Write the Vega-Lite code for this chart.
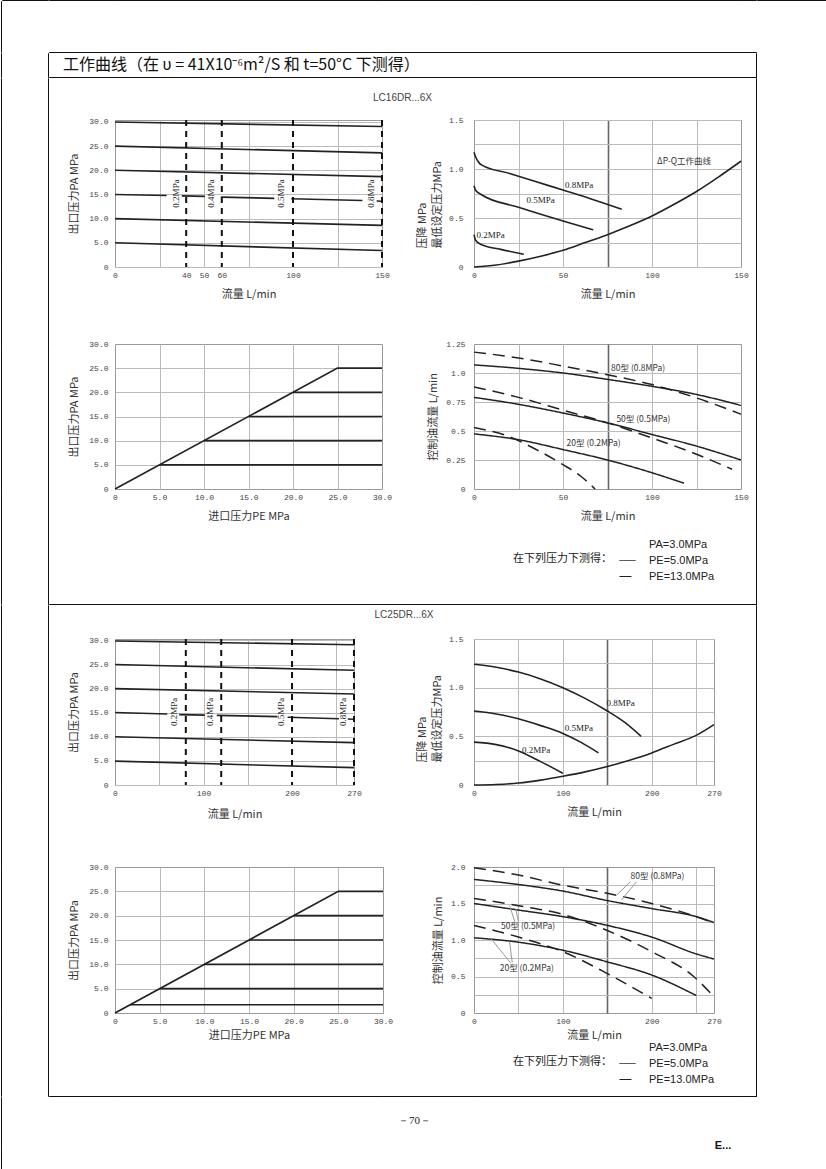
{
"$schema":"https://vega.github.io/schema/vega-lite/v6.json",
"padding":{"left":0,"top":-1,"right":0,"bottom":0},
"background":"#ffffff",
"data":{"values":[]},
"columns":11,
"spacing":0,
"bounds":"flush",
"align":"each",
"resolve":{"scale":{"strokeDash":"independent"},"legend":{"strokeDash":"independent"}},
"concat":[
{"mark":"text","view":{"stroke":"#111"}},{"mark":"text","width":46,"view":{"stroke":"#111"}},{"mark":"text","view":{"stroke":"#111"}},{"mark":"text","width":66,"view":{"stroke":"#111"}},{"mark":"text","width":268,"view":{"stroke":"#111"}},{"mark":"text","width":91,"view":{"stroke":"#111"}},{"mark":"text","width":267,"view":{"stroke":"#111"}},{"mark":"text","width":15,"view":{"stroke":"#111"}},{"mark":"text","view":{"stroke":"#111"}},{"mark":"text","width":70,"view":{"stroke":"#111"}},{"mark":"text","view":{"stroke":"#111"}},

{"mark":"text","height":51,"view":{"stroke":"#111"}},{"mark":"text"},{"mark":"text"},{"mark":"text"},{"mark":"text"},{"mark":"text"},{"mark":"text"},{"mark":"text"},{"mark":"text"},{"mark":"text"},{"mark":"text","height":51,"view":{"stroke":"#111"}},

{"mark":"text","view":{"stroke":"#111"}},{"mark":"text"},{"mark":"text","view":{"stroke":"#111"}},{"mark":"text","width":66,"view":{"stroke":"#111"}},{"mark":"text","width":268,"view":{"stroke":"#111"}},{"mark":"text","width":91,"view":{"stroke":"#111"}},{"mark":"text","width":267,"view":{"stroke":"#111"}},{"mark":"text","width":15,"view":{"stroke":"#111"}},{"mark":"text","view":{"stroke":"#111"}},{"mark":"text"},{"mark":"text","view":{"stroke":"#111"}},

{"mark":"text","height":24,"view":{"stroke":"#111"}},{"mark":"text"},{"mark":"text","height":24,"view":{"stroke":"#111"}},
{"height":24,"data":{"values":[{}]},"mark":{"type":"text","text":"工作曲线（在 υ = 41X10⁻⁶m²/S 和 t=50°C 下测得）","align":"left","dx":14,"font":"Noto Sans CJK SC","fontSize":16,"color":"#111"}},
{"mark":"text"},{"mark":"text"},{"mark":"text"},{"mark":"text"},{"mark":"text","height":24,"view":{"stroke":"#111"}},{"mark":"text"},{"mark":"text","height":24,"view":{"stroke":"#111"}},

{"mark":"text","view":{"stroke":"#111"}},{"mark":"text"},{"mark":"text","view":{"stroke":"#111"}},{"mark":"text","width":66,"view":{"stroke":"#111"}},{"mark":"text","width":268,"view":{"stroke":"#111"}},{"mark":"text","width":91,"view":{"stroke":"#111"}},{"mark":"text","width":267,"view":{"stroke":"#111"}},{"mark":"text","width":15,"view":{"stroke":"#111"}},{"mark":"text","view":{"stroke":"#111"}},{"mark":"text"},{"mark":"text","view":{"stroke":"#111"}},

{"mark":"text","height":42,"view":{"stroke":"#111"}},{"mark":"text"},{"mark":"text","height":42,"view":{"stroke":"#111"}},{"mark":"text"},{"mark":"text"},
{"height":42,"data":{"values":[{}]},"mark":{"type":"text","text":"LC16DR...6X","dx":19.5,"dy":-1,"font":"Liberation Sans","fontSize":10,"color":"#444"}},
{"mark":"text"},{"mark":"text"},{"mark":"text","height":42,"view":{"stroke":"#111"}},{"mark":"text"},{"mark":"text","height":42,"view":{"stroke":"#111"}},

{"mark":"text","height":147,"view":{"stroke":"#111"}},{"mark":"text"},{"mark":"text","height":147,"view":{"stroke":"#111"}},{"mark":"text"},
{"width":267,"height":147,"view":{"stroke":"#999"},
 "data":{"values":[
  {"s":"30","q":0,"p":30.0},{"s":"30","q":150,"p":29.05},
  {"s":"25","q":0,"p":25.0},{"s":"25","q":150,"p":23.6},
  {"s":"20","q":0,"p":20.0},{"s":"20","q":150,"p":18.7},
  {"s":"15a","q":0,"p":15.0},{"s":"15a","q":29,"p":14.8},
  {"s":"15b","q":37.5,"p":14.7},{"s":"15b","q":50.5,"p":14.6},
  {"s":"15c","q":59.5,"p":14.45},{"s":"15c","q":89.5,"p":14.2},
  {"s":"15d","q":99,"p":14.1},{"s":"15d","q":139,"p":13.75},
  {"s":"15e","q":147,"p":13.65},{"s":"15e","q":150,"p":13.6},
  {"s":"10","q":0,"p":10.0},{"s":"10","q":150,"p":8.6},
  {"s":"5","q":0,"p":5.0},{"s":"5","q":150,"p":3.4}
 ]},
 "layer":[
  {"mark":{"type":"line","color":"#222","strokeWidth":1.6},
   "encoding":{
    "x":{"field":"q","type":"quantitative","title":"流量 L/min","scale":{"domain":[0,150],"nice":false},
      "axis":{"values":[0,25,40,50,60,75,100,125,150],"labelOverlap":false,"labelExpr":"indexof([25,75,125], datum.value) >= 0 ? '' : datum.label",
        "gridOpacity":{"condition":{"test":"indexof([0,40,60,100,150], datum.value) >= 0","value":0},"value":1}}},
    "y":{"field":"p","type":"quantitative","title":"出口压力PA MPa","scale":{"domain":[0,30.4],"nice":false},
      "axis":{"values":[0,5,10,15,20,25,30],"labelOverlap":false,"labelExpr":"datum.value == 0 ? '0' : format(datum.value, '.1f')"}},
    "detail":{"field":"s"}}},
  {"data":{"values":[{"q":40},{"q":60},{"q":100},{"q":150}]},
   "mark":{"type":"rule","color":"#111","strokeWidth":2,"strokeDash":[6,5]},
   "encoding":{
    "x":{"field":"q","type":"quantitative","title":"流量 L/min","scale":{"domain":[0,150],"nice":false},
      "axis":{"values":[0,25,40,50,60,75,100,125,150],"labelOverlap":false,"labelExpr":"indexof([25,75,125], datum.value) >= 0 ? '' : datum.label",
        "gridOpacity":{"condition":{"test":"indexof([0,40,60,100,150], datum.value) >= 0","value":0},"value":1}}}}},
  {"data":{"values":[{"q":34,"p":15.2,"t":"0.2MPa"},{"q":54,"p":15.2,"t":"0.4MPa"},{"q":93.5,"p":15.2,"t":"0.5MPa"},{"q":144,"p":15.2,"t":"0.8MPa"}]},
   "mark":{"type":"text","angle":270,"font":"Liberation Serif","fontSize":9,"color":"#222"},
   "encoding":{
    "x":{"field":"q","type":"quantitative","title":"流量 L/min","scale":{"domain":[0,150],"nice":false},
      "axis":{"values":[0,25,40,50,60,75,100,125,150],"labelOverlap":false,"labelExpr":"indexof([25,75,125], datum.value) >= 0 ? '' : datum.label",
        "gridOpacity":{"condition":{"test":"indexof([0,40,60,100,150], datum.value) >= 0","value":0},"value":1}}},
    "y":{"field":"p","type":"quantitative","title":"出口压力PA MPa","scale":{"domain":[0,30.4],"nice":false},
      "axis":{"values":[0,5,10,15,20,25,30],"labelOverlap":false,"labelExpr":"datum.value == 0 ? '0' : format(datum.value, '.1f')"}},
    "text":{"field":"t"}}}
 ]},
{"mark":"text"},
{"width":267,"height":147,"view":{"stroke":"#999"},
 "data":{"values":[
  {"s":"a","q":0,"p":1.17},{"s":"a","q":1,"p":1.12},{"s":"a","q":3,"p":1.06},{"s":"a","q":5,"p":1.035},{"s":"a","q":20,"p":0.955},{"s":"a","q":35,"p":0.87},{"s":"a","q":50,"p":0.785},{"s":"a","q":65,"p":0.7},{"s":"a","q":83,"p":0.59},
  {"s":"b","q":0,"p":0.83},{"s":"b","q":1,"p":0.78},{"s":"b","q":4,"p":0.74},{"s":"b","q":25,"p":0.61},{"s":"b","q":50,"p":0.47},{"s":"b","q":67,"p":0.38},
  {"s":"c","q":0,"p":0.33},{"s":"c","q":1,"p":0.27},{"s":"c","q":4,"p":0.23},{"s":"c","q":15,"p":0.18},{"s":"c","q":28,"p":0.13},
  {"s":"d","q":0,"p":0},{"s":"d","q":12.5,"p":0.02},{"s":"d","q":25,"p":0.06},{"s":"d","q":37.5,"p":0.11},{"s":"d","q":50,"p":0.17},{"s":"d","q":62.5,"p":0.25},{"s":"d","q":75,"p":0.33},{"s":"d","q":87.5,"p":0.42},{"s":"d","q":100,"p":0.52},{"s":"d","q":112.5,"p":0.64},{"s":"d","q":125,"p":0.77},{"s":"d","q":137.5,"p":0.92},{"s":"d","q":150,"p":1.08},
  {"s":"t1","q":59,"p":0.836,"t":"0.8MPa"},{"s":"t1","q":37.4,"p":0.68,"t":"0.5MPa"},{"s":"t1","q":9.4,"p":0.327,"t":"0.2MPa"},
  {"s":"t2","q":118,"p":1.08,"t":"ΔP-Q工作曲线"}
 ]},
 "encoding":{
  "x":{"field":"q","type":"quantitative","title":"流量 L/min","scale":{"domain":[0,150],"nice":false},
    "axis":{"values":[0,25,50,75,100,125,150],"labelOverlap":false,"labelExpr":"datum.value % 50 == 0 ? datum.label : ''",
      "gridOpacity":{"condition":{"test":"datum.value == 0 || datum.value == 150","value":0},"value":1},
      "gridColor":{"condition":{"test":"datum.value == 75","value":"#666"},"value":"#bbb"},
      "gridWidth":{"condition":{"test":"datum.value == 75","value":1.6},"value":1}}},
  "y":{"field":"p","type":"quantitative","title":["压降 MPa","最低设定压力MPa"],"scale":{"domain":[0,1.5],"nice":false},
    "axis":{"values":[0,0.25,0.5,0.75,1,1.25,1.5],"labelOverlap":false,"labelExpr":"datum.value == 0 ? '0' : ((datum.value*2) % 1 == 0 ? format(datum.value, '.1f') : '')","labelPadding":11,"titleAlign":"left","titleY":128,"titleLineHeight":15,"titlePadding":6}}},
 "layer":[
  {"transform":[{"filter":"datum.t == null"}],"mark":{"type":"line","color":"#222","strokeWidth":1.6,"interpolate":"monotone"},"encoding":{"detail":{"field":"s"}}},
  {"transform":[{"filter":"datum.s == 't1'"}],"mark":{"type":"text","font":"Liberation Serif","fontSize":9,"color":"#222"},"encoding":{"text":{"field":"t"}}},
  {"transform":[{"filter":"datum.s == 't2'"}],"mark":{"type":"text","font":"Noto Sans CJK SC","fontSize":8.5,"color":"#333"},"encoding":{"text":{"field":"t"}}}
 ]},
{"mark":"text"},{"mark":"text","height":147,"view":{"stroke":"#111"}},{"mark":"text"},{"mark":"text","height":147,"view":{"stroke":"#111"}},

{"mark":"text","height":77,"view":{"stroke":"#111"}},{"mark":"text"},{"mark":"text","height":77,"view":{"stroke":"#111"}},{"mark":"text"},{"mark":"text"},{"mark":"text"},{"mark":"text"},{"mark":"text"},{"mark":"text","height":77,"view":{"stroke":"#111"}},{"mark":"text"},{"mark":"text","height":77,"view":{"stroke":"#111"}},

{"mark":"text","height":145,"view":{"stroke":"#111"}},{"mark":"text"},{"mark":"text","height":145,"view":{"stroke":"#111"}},{"mark":"text"},
{"width":267,"height":145,"view":{"stroke":"#999"},
 "data":{"values":[{"s":"d","e":0,"p":0},{"s":"d","e":25,"p":25},{"s":"d","e":30,"p":25},{"s":"20","e":20,"p":20},{"s":"20","e":30,"p":20},{"s":"15","e":15,"p":15},{"s":"15","e":30,"p":15},{"s":"10","e":10,"p":10},{"s":"10","e":30,"p":10},{"s":"5","e":5,"p":5},{"s":"5","e":30,"p":5}]},
 "mark":{"type":"line","color":"#222","strokeWidth":1.6},
 "encoding":{
  "x":{"field":"e","type":"quantitative","title":"进口压力PE MPa","scale":{"domain":[0,30],"nice":false},
    "axis":{"values":[0,5,10,15,20,25,30],"labelOverlap":false,"labelExpr":"datum.value == 0 ? '0' : format(datum.value, '.1f')",
      "gridOpacity":{"condition":{"test":"datum.value == 0 || datum.value == 30","value":0},"value":1}}},
  "y":{"field":"p","type":"quantitative","title":"出口压力PA MPa","scale":{"domain":[0,30],"nice":false},
    "axis":{"values":[0,5,10,15,20,25,30],"labelOverlap":false,"labelExpr":"datum.value == 0 ? '0' : format(datum.value, '.1f')",
      "gridOpacity":{"condition":{"test":"datum.value == 0 || datum.value == 30","value":0},"value":1}}},
  "detail":{"field":"s"}}},
{"mark":"text"},
{"width":267,"height":145,"view":{"stroke":"#999"},
 "data":{"values":[
  {"s":"80","c":"PE=5.0MPa","q":0,"f":1.07},{"s":"80","c":"PE=5.0MPa","q":25,"f":1.04},{"s":"80","c":"PE=5.0MPa","q":50,"f":1.0},{"s":"80","c":"PE=5.0MPa","q":75,"f":0.945},{"s":"80","c":"PE=5.0MPa","q":100,"f":0.885},{"s":"80","c":"PE=5.0MPa","q":125,"f":0.815},{"s":"80","c":"PE=5.0MPa","q":150,"f":0.72},
  {"s":"80","c":"PE=13.0MPa","q":0,"f":1.18},{"s":"80","c":"PE=13.0MPa","q":25,"f":1.13},{"s":"80","c":"PE=13.0MPa","q":50,"f":1.06},{"s":"80","c":"PE=13.0MPa","q":75,"f":0.985},{"s":"80","c":"PE=13.0MPa","q":100,"f":0.9},{"s":"80","c":"PE=13.0MPa","q":125,"f":0.785},{"s":"80","c":"PE=13.0MPa","q":150,"f":0.645},
  {"s":"50","c":"PE=5.0MPa","q":0,"f":0.79},{"s":"50","c":"PE=5.0MPa","q":25,"f":0.73},{"s":"50","c":"PE=5.0MPa","q":50,"f":0.655},{"s":"50","c":"PE=5.0MPa","q":75,"f":0.57},{"s":"50","c":"PE=5.0MPa","q":100,"f":0.47},{"s":"50","c":"PE=5.0MPa","q":125,"f":0.37},{"s":"50","c":"PE=5.0MPa","q":150,"f":0.25},
  {"s":"50","c":"PE=13.0MPa","q":0,"f":0.88},{"s":"50","c":"PE=13.0MPa","q":25,"f":0.79},{"s":"50","c":"PE=13.0MPa","q":50,"f":0.68},{"s":"50","c":"PE=13.0MPa","q":75,"f":0.57},{"s":"50","c":"PE=13.0MPa","q":100,"f":0.44},{"s":"50","c":"PE=13.0MPa","q":125,"f":0.3},{"s":"50","c":"PE=13.0MPa","q":145,"f":0.17},
  {"s":"20","c":"PE=5.0MPa","q":0,"f":0.475},{"s":"20","c":"PE=5.0MPa","q":25,"f":0.425},{"s":"20","c":"PE=5.0MPa","q":50,"f":0.34},{"s":"20","c":"PE=5.0MPa","q":75,"f":0.25},{"s":"20","c":"PE=5.0MPa","q":100,"f":0.14},{"s":"20","c":"PE=5.0MPa","q":118,"f":0.05},
  {"s":"20","c":"PE=13.0MPa","q":0,"f":0.53},{"s":"20","c":"PE=13.0MPa","q":20,"f":0.45},{"s":"20","c":"PE=13.0MPa","q":35,"f":0.34},{"s":"20","c":"PE=13.0MPa","q":50,"f":0.21},{"s":"20","c":"PE=13.0MPa","q":60,"f":0.11},{"s":"20","c":"PE=13.0MPa","q":68,"f":0},
  {"s":"t","q":77,"f":1.04,"t":"80型 (0.8MPa)"},{"s":"t","q":80,"f":0.6,"t":"50型 (0.5MPa)"},{"s":"t","q":52,"f":0.4,"t":"20型 (0.2MPa)"}
 ]},
 "encoding":{
  "x":{"field":"q","type":"quantitative","title":"流量 L/min","scale":{"domain":[0,150],"nice":false},
    "axis":{"values":[0,25,50,75,100,125,150],"labelOverlap":false,"labelExpr":"datum.value % 50 == 0 ? datum.label : ''",
      "gridOpacity":{"condition":{"test":"datum.value == 0 || datum.value == 150","value":0},"value":1},
      "gridColor":{"condition":{"test":"datum.value == 75","value":"#666"},"value":"#bbb"},
      "gridWidth":{"condition":{"test":"datum.value == 75","value":1.6},"value":1}}},
  "y":{"field":"f","type":"quantitative","title":"控制油流量 L/min","scale":{"domain":[0,1.25],"nice":false},
    "axis":{"values":[0,0.25,0.5,0.75,1,1.25],"labelOverlap":false,"labelExpr":"datum.value == 0 ? '0' : (datum.value == 1 ? '1.0' : toString(datum.value))","labelPadding":9,"titlePadding":7,
      "gridOpacity":{"condition":{"test":"datum.value == 0 || datum.value == 1.25","value":0},"value":1}}}},
 "layer":[
  {"transform":[{"filter":"datum.t == null"}],"mark":{"type":"line","color":"#222","strokeWidth":1.5,"interpolate":"monotone"},
   "encoding":{
    "detail":{"field":"s"},
    "strokeDash":{"field":"c","type":"nominal",
      "scale":{"domain":["PA=3.0MPa","PE=5.0MPa","PE=13.0MPa"],"range":[[0,20],[1,0],[12,7]]},
      "legend":{"orient":"none","legendX":39,"legendY":192,"title":"在下列压力下测得：","titleOrient":"left","titleAnchor":"middle","titleBaseline":"middle","titlePadding":7,"titleFont":"Noto Sans CJK SC","titleFontSize":11,"titleFontWeight":"normal","titleColor":"#222","labelFont":"Liberation Sans","labelFontSize":11,"labelColor":"#222","labelOffset":13,"symbolType":"stroke","symbolSize":256,"symbolStrokeWidth":1,"symbolStrokeColor":"#222","rowPadding":2}}}},
  {"transform":[{"filter":"datum.t != null"}],"mark":{"type":"text","align":"left","font":"Noto Sans CJK SC","fontSize":8.5,"color":"#333"},"encoding":{"text":{"field":"t"}}}
 ]},
{"mark":"text"},{"mark":"text","height":145,"view":{"stroke":"#111"}},{"mark":"text"},{"mark":"text","height":145,"view":{"stroke":"#111"}},

{"mark":"text","height":115,"view":{"stroke":"#111"}},{"mark":"text"},{"mark":"text","height":115,"view":{"stroke":"#111"}},{"mark":"text"},{"mark":"text"},{"mark":"text"},{"mark":"text"},{"mark":"text"},{"mark":"text","height":115,"view":{"stroke":"#111"}},{"mark":"text"},{"mark":"text","height":115,"view":{"stroke":"#111"}},

{"mark":"text","view":{"stroke":"#111"}},{"mark":"text"},{"mark":"text","view":{"stroke":"#111"}},{"mark":"text","width":66,"view":{"stroke":"#111"}},{"mark":"text","width":268,"view":{"stroke":"#111"}},{"mark":"text","width":91,"view":{"stroke":"#111"}},{"mark":"text","width":267,"view":{"stroke":"#111"}},{"mark":"text","width":15,"view":{"stroke":"#111"}},{"mark":"text","view":{"stroke":"#111"}},{"mark":"text"},{"mark":"text","view":{"stroke":"#111"}},

{"mark":"text","height":20,"view":{"stroke":"#111"}},{"mark":"text"},{"mark":"text","height":20,"view":{"stroke":"#111"}},{"mark":"text"},{"mark":"text"},
{"height":20,"data":{"values":[{}]},"mark":{"type":"text","text":"LC25DR...6X","dx":21,"font":"Liberation Sans","fontSize":10,"color":"#444"}},
{"mark":"text"},{"mark":"text"},{"mark":"text","height":20,"view":{"stroke":"#111"}},{"mark":"text"},{"mark":"text","height":20,"view":{"stroke":"#111"}},

{"mark":"text","height":14,"view":{"stroke":"#111"}},{"mark":"text"},{"mark":"text","height":14,"view":{"stroke":"#111"}},{"mark":"text"},{"mark":"text"},{"mark":"text"},{"mark":"text"},{"mark":"text"},{"mark":"text","height":14,"view":{"stroke":"#111"}},{"mark":"text"},{"mark":"text","height":14,"view":{"stroke":"#111"}},

{"mark":"text","height":146,"view":{"stroke":"#111"}},{"mark":"text"},{"mark":"text","height":146,"view":{"stroke":"#111"}},{"mark":"text"},
{"width":239,"height":146,"view":{"stroke":"#999"},
 "data":{"values":[
  {"s":"30","q":0,"p":29.9},{"s":"30","q":270,"p":29.1},
  {"s":"25","q":0,"p":25.0},{"s":"25","q":270,"p":23.8},
  {"s":"20","q":0,"p":20.0},{"s":"20","q":270,"p":18.9},
  {"s":"15a","q":0,"p":15.05},{"s":"15a","q":59,"p":14.75},
  {"s":"15b","q":72.5,"p":14.6},{"s":"15b","q":101.5,"p":14.5},
  {"s":"15c","q":115,"p":14.45},{"s":"15c","q":183.5,"p":14.2},
  {"s":"15d","q":195,"p":14.05},{"s":"15d","q":253,"p":13.75},
  {"s":"15e","q":263,"p":13.7},{"s":"15e","q":270,"p":13.65},
  {"s":"10","q":0,"p":10.0},{"s":"10","q":270,"p":8.8},
  {"s":"5","q":0,"p":4.95},{"s":"5","q":270,"p":3.6}
 ]},
 "layer":[
  {"mark":{"type":"line","color":"#222","strokeWidth":1.6},
   "encoding":{
    "x":{"field":"q","type":"quantitative","title":"流量 L/min","scale":{"domain":[0,270],"nice":false},
      "axis":{"values":[0,50,80,100,120,150,200,250,270],"labelOverlap":false,"labelExpr":"indexof([0,100,200,270], datum.value) >= 0 ? datum.label : ''","titlePadding":11,
        "gridOpacity":{"condition":{"test":"indexof([0,80,120,200,270], datum.value) >= 0","value":0},"value":1}}},
    "y":{"field":"p","type":"quantitative","title":"出口压力PA MPa","scale":{"domain":[0,30.3],"nice":false},
      "axis":{"values":[0,5,10,15,20,25,30],"labelOverlap":false,"labelExpr":"datum.value == 0 ? '0' : format(datum.value, '.1f')"}},
    "detail":{"field":"s"}}},
  {"data":{"values":[{"q":80},{"q":120},{"q":200},{"q":270}]},
   "mark":{"type":"rule","color":"#111","strokeWidth":2,"strokeDash":[6,5]},
   "encoding":{
    "x":{"field":"q","type":"quantitative","title":"流量 L/min","scale":{"domain":[0,270],"nice":false},
      "axis":{"values":[0,50,80,100,120,150,200,250,270],"labelOverlap":false,"labelExpr":"indexof([0,100,200,270], datum.value) >= 0 ? datum.label : ''","titlePadding":11,
        "gridOpacity":{"condition":{"test":"indexof([0,80,120,200,270], datum.value) >= 0","value":0},"value":1}}}}},
  {"data":{"values":[{"q":67,"p":15.2,"t":"0.2MPa"},{"q":107.5,"p":15.2,"t":"0.4MPa"},{"q":188,"p":15.2,"t":"0.5MPa"},{"q":258,"p":15.2,"t":"0.8MPa"}]},
   "mark":{"type":"text","angle":270,"font":"Liberation Serif","fontSize":9,"color":"#222"},
   "encoding":{
    "x":{"field":"q","type":"quantitative","title":"流量 L/min","scale":{"domain":[0,270],"nice":false},
      "axis":{"values":[0,50,80,100,120,150,200,250,270],"labelOverlap":false,"labelExpr":"indexof([0,100,200,270], datum.value) >= 0 ? datum.label : ''","titlePadding":11,
        "gridOpacity":{"condition":{"test":"indexof([0,80,120,200,270], datum.value) >= 0","value":0},"value":1}}},
    "y":{"field":"p","type":"quantitative","title":"出口压力PA MPa","scale":{"domain":[0,30.3],"nice":false},
      "axis":{"values":[0,5,10,15,20,25,30],"labelOverlap":false,"labelExpr":"datum.value == 0 ? '0' : format(datum.value, '.1f')"}},
    "text":{"field":"t"}}}
 ]},
{"mark":"text"},
{"width":240,"height":146,"view":{"stroke":"#999"},
 "data":{"values":[
  {"s":"a","q":0,"p":1.24},{"s":"a","q":25,"p":1.21},{"s":"a","q":50,"p":1.16},{"s":"a","q":75,"p":1.09},{"s":"a","q":100,"p":1.0},{"s":"a","q":125,"p":0.89},{"s":"a","q":150,"p":0.76},{"s":"a","q":170,"p":0.64},{"s":"a","q":188,"p":0.5},
  {"s":"b","q":0,"p":0.76},{"s":"b","q":25,"p":0.73},{"s":"b","q":50,"p":0.68},{"s":"b","q":75,"p":0.61},{"s":"b","q":100,"p":0.53},{"s":"b","q":120,"p":0.44},{"s":"b","q":140,"p":0.33},
  {"s":"c","q":0,"p":0.44},{"s":"c","q":25,"p":0.415},{"s":"c","q":50,"p":0.35},{"s":"c","q":75,"p":0.24},{"s":"c","q":100,"p":0.12},
  {"s":"d","q":0,"p":0},{"s":"d","q":25,"p":0.005},{"s":"d","q":50,"p":0.02},{"s":"d","q":75,"p":0.05},{"s":"d","q":100,"p":0.09},{"s":"d","q":125,"p":0.135},{"s":"d","q":150,"p":0.19},{"s":"d","q":175,"p":0.255},{"s":"d","q":200,"p":0.33},{"s":"d","q":225,"p":0.42},{"s":"d","q":250,"p":0.51},{"s":"d","q":270,"p":0.62},
  {"s":"t","q":165,"p":0.84,"t":"0.8MPa"},{"s":"t","q":118,"p":0.59,"t":"0.5MPa"},{"s":"t","q":70,"p":0.36,"t":"0.2MPa"}
 ]},
 "encoding":{
  "x":{"field":"q","type":"quantitative","title":"流量 L/min","scale":{"domain":[0,270],"nice":false},
    "axis":{"values":[0,50,100,150,200,250,270],"labelOverlap":false,"labelExpr":"indexof([0,100,200,270], datum.value) >= 0 ? datum.label : ''",
      "gridOpacity":{"condition":{"test":"datum.value == 0 || datum.value == 270","value":0},"value":1},
      "gridColor":{"condition":{"test":"datum.value == 150","value":"#666"},"value":"#bbb"},
      "gridWidth":{"condition":{"test":"datum.value == 150","value":1.6},"value":1}}},
  "y":{"field":"p","type":"quantitative","title":["压降 MPa","最低设定压力MPa"],"scale":{"domain":[0,1.5],"nice":false},
    "axis":{"values":[0,0.25,0.5,0.75,1,1.25,1.5],"labelOverlap":false,"labelExpr":"datum.value == 0 ? '0' : ((datum.value*2) % 1 == 0 ? format(datum.value, '.1f') : '')","labelPadding":11,"titleAlign":"left","titleY":123,"titleLineHeight":15,"titlePadding":6}}},
 "layer":[
  {"transform":[{"filter":"datum.t == null"}],"mark":{"type":"line","color":"#222","strokeWidth":1.6,"interpolate":"monotone"},"encoding":{"detail":{"field":"s"}}},
  {"transform":[{"filter":"datum.t != null"}],"mark":{"type":"text","font":"Liberation Serif","fontSize":9,"color":"#222"},"encoding":{"text":{"field":"t"}}}
 ]},
{"mark":"text"},{"mark":"text","height":146,"view":{"stroke":"#111"}},{"mark":"text"},{"mark":"text","height":146,"view":{"stroke":"#111"}},

{"mark":"text","height":82,"view":{"stroke":"#111"}},{"mark":"text"},{"mark":"text","height":82,"view":{"stroke":"#111"}},{"mark":"text"},{"mark":"text"},{"mark":"text"},{"mark":"text"},{"mark":"text"},{"mark":"text","height":82,"view":{"stroke":"#111"}},{"mark":"text"},{"mark":"text","height":82,"view":{"stroke":"#111"}},

{"mark":"text","height":146,"view":{"stroke":"#111"}},{"mark":"text"},{"mark":"text","height":146,"view":{"stroke":"#111"}},{"mark":"text"},
{"width":268,"height":146,"view":{"stroke":"#999"},
 "data":{"values":[{"s":"d","e":0,"p":0},{"s":"d","e":25,"p":25},{"s":"d","e":30,"p":25},{"s":"20","e":20,"p":20},{"s":"20","e":30,"p":20},{"s":"15","e":15,"p":15},{"s":"15","e":30,"p":15},{"s":"10","e":10,"p":10},{"s":"10","e":30,"p":10},{"s":"5","e":5,"p":5},{"s":"5","e":30,"p":5},{"s":"2","e":1.7,"p":1.7},{"s":"2","e":30,"p":1.7}]},
 "mark":{"type":"line","color":"#222","strokeWidth":1.7},
 "encoding":{
  "x":{"field":"e","type":"quantitative","title":"进口压力PE MPa","scale":{"domain":[0,30],"nice":false},
    "axis":{"values":[0,5,10,15,20,25,30],"labelOverlap":false,"labelExpr":"datum.value == 0 ? '0' : format(datum.value, '.1f')","titlePadding":4,
      "gridOpacity":{"condition":{"test":"datum.value == 0 || datum.value == 30","value":0},"value":1}}},
  "y":{"field":"p","type":"quantitative","title":"出口压力PA MPa","scale":{"domain":[0,30],"nice":false},
    "axis":{"values":[0,5,10,15,20,25,30],"labelOverlap":false,"labelExpr":"datum.value == 0 ? '0' : format(datum.value, '.1f')",
      "gridOpacity":{"condition":{"test":"datum.value == 0 || datum.value == 30","value":0},"value":1}}},
  "detail":{"field":"s"}}},
{"mark":"text"},
{"width":240,"height":146,"view":{"stroke":"#999"},
 "data":{"values":[
  {"s":"80","c":"PE=5.0MPa","q":0,"f":1.83},{"s":"80","c":"PE=5.0MPa","q":50,"f":1.76},{"s":"80","c":"PE=5.0MPa","q":100,"f":1.67},{"s":"80","c":"PE=5.0MPa","q":150,"f":1.54},{"s":"80","c":"PE=5.0MPa","q":200,"f":1.43},{"s":"80","c":"PE=5.0MPa","q":250,"f":1.32},{"s":"80","c":"PE=5.0MPa","q":270,"f":1.24},
  {"s":"80","c":"PE=13.0MPa","q":0,"f":1.99},{"s":"80","c":"PE=13.0MPa","q":50,"f":1.89},{"s":"80","c":"PE=13.0MPa","q":100,"f":1.75},{"s":"80","c":"PE=13.0MPa","q":150,"f":1.64},{"s":"80","c":"PE=13.0MPa","q":200,"f":1.5},{"s":"80","c":"PE=13.0MPa","q":250,"f":1.32},{"s":"80","c":"PE=13.0MPa","q":270,"f":1.23},
  {"s":"50","c":"PE=5.0MPa","q":0,"f":1.5},{"s":"50","c":"PE=5.0MPa","q":50,"f":1.41},{"s":"50","c":"PE=5.0MPa","q":100,"f":1.32},{"s":"50","c":"PE=5.0MPa","q":150,"f":1.2},{"s":"50","c":"PE=5.0MPa","q":200,"f":1.04},{"s":"50","c":"PE=5.0MPa","q":250,"f":0.81},{"s":"50","c":"PE=5.0MPa","q":270,"f":0.74},
  {"s":"50","c":"PE=13.0MPa","q":0,"f":1.57},{"s":"50","c":"PE=13.0MPa","q":50,"f":1.47},{"s":"50","c":"PE=13.0MPa","q":100,"f":1.35},{"s":"50","c":"PE=13.0MPa","q":150,"f":1.13},{"s":"50","c":"PE=13.0MPa","q":200,"f":0.84},{"s":"50","c":"PE=13.0MPa","q":250,"f":0.47},{"s":"50","c":"PE=13.0MPa","q":270,"f":0.22},
  {"s":"20","c":"PE=5.0MPa","q":0,"f":1.03},{"s":"20","c":"PE=5.0MPa","q":50,"f":0.97},{"s":"20","c":"PE=5.0MPa","q":100,"f":0.86},{"s":"20","c":"PE=5.0MPa","q":150,"f":0.7},{"s":"20","c":"PE=5.0MPa","q":200,"f":0.52},{"s":"20","c":"PE=5.0MPa","q":250,"f":0.24},
  {"s":"20","c":"PE=13.0MPa","q":0,"f":1.2},{"s":"20","c":"PE=13.0MPa","q":50,"f":1.04},{"s":"20","c":"PE=13.0MPa","q":100,"f":0.84},{"s":"20","c":"PE=13.0MPa","q":150,"f":0.54},{"s":"20","c":"PE=13.0MPa","q":200,"f":0.2},
  {"s":"t","q":176,"f":1.88,"t":"80型 (0.8MPa)"},{"s":"t","q":30.5,"f":1.19,"t":"50型 (0.5MPa)"},{"s":"t","q":29,"f":0.62,"t":"20型 (0.2MPa)"},
  {"s":"L","q":176,"f":1.8,"q2":161,"f2":1.62},{"s":"L","q":183,"f":1.8,"q2":166,"f2":1.55},{"s":"L","q":46,"f":1.25,"q2":40,"f2":1.47},{"s":"L","q":50,"f":1.25,"q2":47,"f2":1.43},{"s":"L","q":41,"f":0.69,"q2":19,"f2":1.02},{"s":"L","q":43,"f":0.69,"q2":40,"f2":0.98}
 ]},
 "encoding":{
  "x":{"field":"q","type":"quantitative","title":"流量 L/min","scale":{"domain":[0,270],"nice":false},
    "axis":{"values":[0,50,100,150,200,250,270],"labelOverlap":false,"labelExpr":"indexof([0,100,200,270], datum.value) >= 0 ? datum.label : ''","titlePadding":4,
      "gridOpacity":{"condition":{"test":"datum.value == 0 || datum.value == 270","value":0},"value":1},
      "gridColor":{"condition":{"test":"datum.value == 150","value":"#666"},"value":"#bbb"},
      "gridWidth":{"condition":{"test":"datum.value == 150","value":1.6},"value":1}}},
  "y":{"field":"f","type":"quantitative","title":"控制油流量 L/min","scale":{"domain":[0,2],"nice":false},
    "axis":{"values":[0,0.25,0.5,0.75,1,1.25,1.5,1.75,2],"labelOverlap":false,"labelExpr":"datum.value == 0 ? '0' : ((datum.value*2) % 1 == 0 ? format(datum.value, '.1f') : '')","labelPadding":9,"titlePadding":7,
      "gridOpacity":{"condition":{"test":"datum.value == 0 || datum.value == 2","value":0},"value":1}}}},
 "layer":[
  {"transform":[{"filter":"datum.s != 't' && datum.s != 'L'"}],"mark":{"type":"line","color":"#222","strokeWidth":1.5,"interpolate":"monotone"},
   "encoding":{
    "detail":{"field":"s"},
    "strokeDash":{"field":"c","type":"nominal",
      "scale":{"domain":["PA=3.0MPa","PE=5.0MPa","PE=13.0MPa"],"range":[[0,20],[1,0],[12,7]]},
      "legend":{"orient":"none","legendX":39,"legendY":172,"title":"在下列压力下测得：","titleOrient":"left","titleAnchor":"middle","titleBaseline":"middle","titlePadding":7,"titleFont":"Noto Sans CJK SC","titleFontSize":11,"titleFontWeight":"normal","titleColor":"#222","labelFont":"Liberation Sans","labelFontSize":11,"labelColor":"#222","labelOffset":13,"symbolType":"stroke","symbolSize":256,"symbolStrokeWidth":1,"symbolStrokeColor":"#222","rowPadding":2}}}},
  {"transform":[{"filter":"datum.s == 'L'"}],"mark":{"type":"rule","color":"#999","strokeWidth":1},"encoding":{"x2":{"field":"q2"},"y2":{"field":"f2"}}},
  {"transform":[{"filter":"datum.s == 't'"}],"mark":{"type":"text","align":"left","font":"Noto Sans CJK SC","fontSize":8.5,"color":"#333"},"encoding":{"text":{"field":"t"}}}
 ]},
{"mark":"text"},{"mark":"text","height":146,"view":{"stroke":"#111"}},{"mark":"text"},{"mark":"text","height":146,"view":{"stroke":"#111"}},

{"mark":"text","height":83,"view":{"stroke":"#111"}},{"mark":"text"},{"mark":"text","height":83,"view":{"stroke":"#111"}},{"mark":"text"},{"mark":"text"},{"mark":"text"},{"mark":"text"},{"mark":"text"},{"mark":"text","height":83,"view":{"stroke":"#111"}},{"mark":"text"},{"mark":"text","height":83,"view":{"stroke":"#111"}},

{"mark":"text","view":{"stroke":"#111"}},{"mark":"text"},{"mark":"text","view":{"stroke":"#111"}},{"mark":"text","width":66,"view":{"stroke":"#111"}},{"mark":"text","width":268,"view":{"stroke":"#111"}},{"mark":"text","width":91,"view":{"stroke":"#111"}},{"mark":"text","width":267,"view":{"stroke":"#111"}},{"mark":"text","width":15,"view":{"stroke":"#111"}},{"mark":"text","view":{"stroke":"#111"}},{"mark":"text"},{"mark":"text","view":{"stroke":"#111"}},

{"mark":"text","height":48,"view":{"stroke":"#111"}},{"mark":"text"},{"mark":"text"},{"mark":"text"},{"mark":"text"},
{"height":48,"data":{"values":[{}]},"mark":{"type":"text","text":"－70－","dx":31.5,"font":"Liberation Serif","fontSize":11,"color":"#222"}},
{"mark":"text"},{"mark":"text"},{"mark":"text"},{"mark":"text"},{"mark":"text","height":48,"view":{"stroke":"#111"}},

{"mark":"text","height":2,"view":{"stroke":"#111"}},{"mark":"text"},{"mark":"text"},{"mark":"text"},{"mark":"text"},{"mark":"text"},{"mark":"text"},
{"height":2,"data":{"values":[{}]},"mark":{"type":"text","text":"E...","dx":-18,"font":"Liberation Sans","fontSize":11,"fontWeight":"bold","color":"#111"}},
{"mark":"text"},{"mark":"text"},{"mark":"text","height":2,"view":{"stroke":"#111"}},

{"mark":"text","height":24,"view":{"stroke":"#111"}},{"mark":"text"},{"mark":"text"},{"mark":"text"},{"mark":"text"},{"mark":"text"},{"mark":"text"},{"mark":"text"},{"mark":"text"},{"mark":"text"},{"mark":"text","height":24,"view":{"stroke":"#111"}},

{"mark":"text","view":{"stroke":"#111"}},{"mark":"text","width":46,"view":{"stroke":"#111"}},{"mark":"text","view":{"stroke":"#111"}},{"mark":"text","width":66,"view":{"stroke":"#111"}},{"mark":"text","width":268,"view":{"stroke":"#111"}},{"mark":"text","width":91,"view":{"stroke":"#111"}},{"mark":"text","width":267,"view":{"stroke":"#111"}},{"mark":"text","width":15,"view":{"stroke":"#111"}},{"mark":"text","view":{"stroke":"#111"}},{"mark":"text","width":70,"view":{"stroke":"#111"}},{"mark":"text","view":{"stroke":"#111"}}
],
"config":{
 "view":{"stroke":null,"discreteWidth":0.001,"discreteHeight":0.001},
 "text":{"font":"Noto Sans CJK SC"},
 "axis":{"labelFont":"Liberation Mono","labelFontSize":8,"labelColor":"#444","titleFont":"Noto Sans CJK SC","titleFontSize":11,"titleFontWeight":"normal","titleColor":"#333","ticks":false,"domain":false,"gridColor":"#bbb","labelFlush":false,"labelOverlap":false},
 "axisX":{"labelPadding":4,"titlePadding":9},
 "axisY":{"labelPadding":7,"titlePadding":9}
}
}
